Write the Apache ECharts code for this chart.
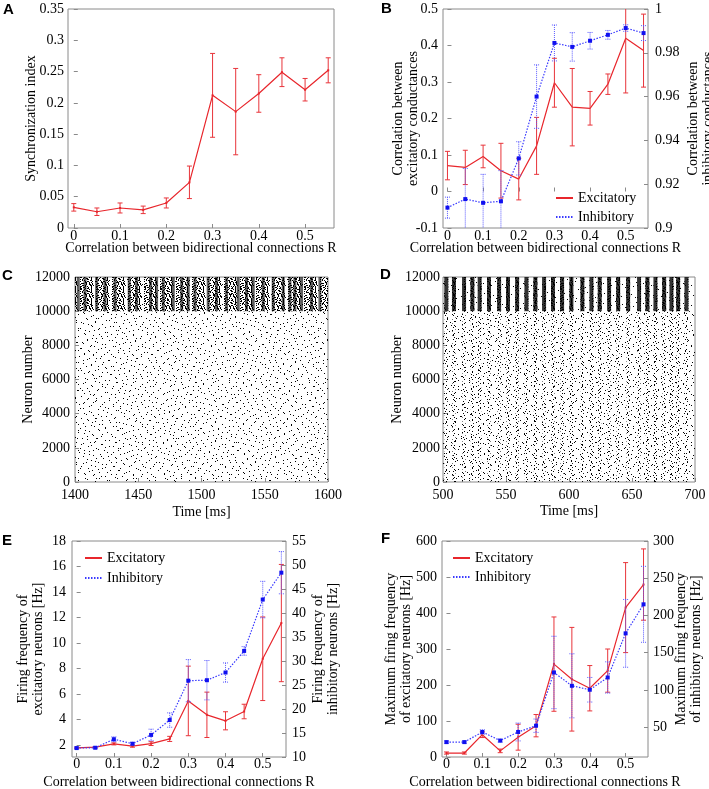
<!DOCTYPE html>
<html>
<head>
<meta charset="utf-8">
<script src="https://cdn.jsdelivr.net/npm/echarts@6.0.0/dist/echarts.min.js"></script>
<style>
html,body{margin:0;padding:0;background:#fff;}
#chart{width:709px;height:789px;}
</style>
</head>
<body>
<div id="chart"></div>
<script>
// ---------------- DATA ----------------
const R_VALUES = [0, 0.05, 0.1, 0.15, 0.2, 0.25, 0.3, 0.35, 0.4, 0.45, 0.5, 0.55];
const R_TICKS = [0, 0.1, 0.2, 0.3, 0.4, 0.5];

// A: synchronization index
const syncIndex = [0.033, 0.026, 0.032, 0.029, 0.040, 0.073, 0.212, 0.186, 0.215, 0.249, 0.221, 0.252];
const syncIndexErr = [0.006, 0.006, 0.008, 0.006, 0.008, 0.026, 0.067, 0.069, 0.030, 0.023, 0.018, 0.020];

// B: correlation between conductances
const corrExc = [0.071, 0.066, 0.096, 0.057, 0.034, 0.125, 0.298, 0.231, 0.228, 0.294, 0.420, 0.386];
const corrExcErr = [0.039, 0.047, 0.031, 0.075, 0.057, 0.078, 0.067, 0.106, 0.046, 0.028, 0.150, 0.100];
const corrInh = [0.9093, 0.9132, 0.9115, 0.9122, 0.9318, 0.9600, 0.9845, 0.9827, 0.9855, 0.9882, 0.9913, 0.9890];
const corrInhErr = [0.0048, 0.014, 0.013, 0.014, 0.0076, 0.0145, 0.0082, 0.0065, 0.0038, 0.0020, 0.0015, 0.0034];

const POPULATION_SIZES = [10000, 2000]; // excitatory neurons 0..10000, inhibitory 10000..12000
const burstTimesC = [1402.6, 1407.9, 1417.1, 1423.7, 1431.6, 1442.9, 1448.7, 1459.8, 1464.5, 1469.8, 1477.7, 1484.3, 1489.5, 1494.8, 1505.3, 1511.9, 1519.8, 1529.0, 1535.6, 1540.9, 1548.8, 1556.7, 1564.6, 1569.9, 1573.8, 1579.1, 1587.0, 1593.6];
const burstTimesD = [502.6, 508.7, 516.7, 523.3, 529.1, 536.5, 544.5, 551.6, 558.8, 566.2, 573.3, 580.2, 587.3, 594.5, 601.9, 610.6, 617.8, 624.4, 631.8, 639.0, 646.9, 655.6, 662.2, 668.6, 675.5, 681.3, 686.6, 693.2];

// E: firing frequency
const freqExc = [1.77, 1.82, 2.08, 1.90, 2.10, 2.47, 5.45, 4.36, 3.89, 4.62, 8.76, 11.56];
const freqExcErr = [0.05, 0.05, 0.08, 0.08, 0.15, 0.20, 2.73, 1.78, 0.71, 0.57, 3.28, 4.60];
const freqInh = [11.86, 11.93, 13.7, 12.76, 14.6, 17.7, 25.9, 26.0, 27.6, 32.1, 42.8, 48.4];
const freqInhErr = [0.2, 0.2, 0.5, 0.3, 1.2, 1.5, 4.4, 4.1, 2.0, 0.9, 3.8, 4.4];

// F: maximum firing frequency
const maxFreqExc = [11, 11, 62, 17, 55, 87, 258, 216, 191, 240, 415, 479];
const maxFreqExcErr = [3, 3, 8, 5, 36, 31, 131, 144, 63, 60, 125, 99];
const maxFreqInh = [30, 30, 43.6, 32, 43.6, 52, 123.5, 105.6, 100.3, 116.8, 176, 215];
const maxFreqInhErr = [1.5, 1.5, 3, 2, 12, 9, 48.6, 43, 16.5, 21, 45.5, 51];

const E_LEFT_TICKS = [2, 4, 6, 8, 10, 12, 14, 16, 18];
const F_RIGHT_TICKS = [50, 100, 150, 200, 250, 300];

// ---------------- STYLE ----------------
const SERIF = '"Liberation Serif", "Times New Roman", serif';
const SANS = '"Liberation Sans", Arial, sans-serif';
const GRAY = '#8a8a8a';
const RED = '#e8262c';
const RED_ERR = '#e8343a';
const BLUE = '#1010f0';
const BLUE_LINE = '#3a3aff';
const BLUE_ERR = '#5a5aff';
const TRANSPARENT = 'rgba(0,0,0,0)';

// hand-made dot textures for the raster plots (decal patterns)
const DOTS_A_ROWS = [
  [0,3,1,17,1,15,1,10], [0,11,1,18,1,17], [0,6,1,19,1,17,1,3], [0,16,1,22,1,8],
  [0,1,1,27,1,4,1,13], [0,9,1,13,1,24], [0,19,1,22,1,3,1,1], [0,5,1,27,1,14],
  [0,13,1,13,1,12,1,7], [1,21,1,25], [0,8,1,27,1,8,1,2], [0,17,1,13,1,16],
  [0,4,1,19,1,16,1,6], [0,12,1,22,1,12], [0,7,1,12,1,9,1,17], [0,25,1,17,1,4],
  [0,2,1,12,1,22,1,9], [0,10,1,17,1,19], [0,18,1,14,1,13,1,0], [0,6,1,33,1,7],
  [0,14,1,8,1,20,1,3], [0,3,1,26,1,17], [0,20,1,16,1,8,1,1], [0,9,1,16,1,21]
];
const DOTS_B_ROWS = [
  [0,7,1,32], [0,29,1,10], [0,15,1,24], [0,36,1,3], [0,3,1,36],
  [0,22,1,17], [0,11,1,28], [0,33,1,6], [0,25,1,14], [1,39],
  [0,18,1,21], [0,38,1,1], [0,9,1,30], [0,27,1,12], [0,4,1,35],
  [0,31,1,8], [0,13,1,26], [0,21,1,18], [0,35,1,4], [0,16,1,23]
];
const MEDIUM_ROWS = [
  [1,2,2,3,1,2,1,4], [0,1,1,3,1,1,2,2,1,4], [2,2,1,4,1,1,1,4], [0,3,1,2,2,3,1,4],
  [1,1,1,4,2,2,1,4], [0,2,1,1,1,5,2,4], [1,4,1,1,2,3,1,3], [0,5,2,2,1,1,1,4],
  [0,1,2,3,1,2,1,2,1,3], [1,5,1,2,2,1,1,3], [0,2,2,1,1,4,1,2,1,2], [2,3,1,1,1,3,1,4]
];
const COLUMN_ROWS = [[1,3], [0,4], [0,2,1,1], [0,4], [0,1,1,2], [0,4], [0,3,1,0], [0,4], [1,3], [0,4], [0,2,1,1], [0,4]];

function decal(rows, ys) {
  return {symbol: 'rect', symbolSize: 1, symbolKeepAspect: false, color: '#000',
          backgroundColor: null, dashArrayX: rows, dashArrayY: ys, rotation: 0,
          maxTileWidth: 512, maxTileHeight: 512};
}
const DECAL_A_HALF = decal(DOTS_A_ROWS, [1, 1]);
const DECAL_B = decal(DOTS_B_ROWS, [1, 0]);
const DECAL_MEDIUM = decal(MEDIUM_ROWS, [1, 0]);
const DECAL_COLUMN = decal(COLUMN_ROWS, [1, 0]);

function clean(o) { Object.keys(o).forEach(k => { if (o[k] === undefined) delete o[k]; }); return o; }

function mkAxis(p) {
  const a = clean({
    type: p.type || 'value', gridIndex: p.grid, position: p.position,
    min: p.min, max: p.max, interval: p.interval,
    name: p.name || '', nameLocation: 'middle', nameGap: p.nameGap || 0, nameRotate: p.nameRotate,
    nameMoveOverlap: false,
    nameTextStyle: {fontFamily: SERIF, fontSize: 14, color: '#000', lineHeight: 15},
    axisLine: {show: false},
    splitLine: {show: false},
    axisTick: {show: true, inside: true, length: 4, lineStyle: {color: GRAY, width: 1}},
    axisLabel: clean({show: true, fontFamily: SERIF, fontSize: 14, color: '#000', margin: p.margin, formatter: p.formatter})
  });
  if (p.ticks) { a.axisTick.customValues = p.ticks; a.axisLabel.customValues = p.ticks; }
  return a;
}
function hiddenCat(grid) {
  return {type: 'category', gridIndex: grid, data: ['all'], show: false, boundaryGap: true};
}
function hiddenVal(grid, min, max, extra) {
  return Object.assign({type: 'value', gridIndex: grid, min, max, show: false,
                        splitLine: {show: false}}, extra || {});
}
const plainNum = v => String(v);
const XNAME = 'Correlation between bidirectional connections R';
const XMIN = -0.0125, XMAX = 0.5625;

function grid(left, top, width, height, show) {
  return {left, top, width, height, show: show !== false, borderColor: GRAY, borderWidth: 1,
          backgroundColor: TRANSPARENT, containLabel: false, outerBoundsMode: 'none'};
}

function lineSeries(name, xi, yi, vals, color, dotted) {
  return {type: 'line', name, xAxisIndex: xi, yAxisIndex: yi,
          data: R_VALUES.map((r, i) => [r, vals[i]]), symbol: 'none', clip: true,
          lineStyle: {color, width: 1.2, type: dotted ? [1.5, 1.5] : 'solid'},
          itemStyle: {color}, silent: true, z: 3};
}
function errSeries(xi, yi, vals, errs, color, o) {
  return {
    type: 'custom', xAxisIndex: xi, yAxisIndex: yi, clip: true, silent: true, z: 4,
    data: R_VALUES.map((r, i) => [r, vals[i], vals[i] - errs[i], vals[i] + errs[i]]),
    encode: {x: 0, y: [1, 2, 3]},
    renderItem: (params, api) => {
      const x = api.value(0);
      const p = api.coord([x, api.value(1)]);
      const lo = api.coord([x, api.value(2)]);
      const hi = api.coord([x, api.value(3)]);
      const cap = o.cap || 2.5;
      const st = {stroke: color, lineWidth: 1, lineDash: o.dash || null, fill: null};
      const ch = [
        {type: 'line', shape: {x1: p[0], y1: hi[1], x2: p[0], y2: lo[1]}, style: st},
        {type: 'line', shape: {x1: p[0] - cap, y1: hi[1], x2: p[0] + cap, y2: hi[1]}, style: st},
        {type: 'line', shape: {x1: p[0] - cap, y1: lo[1], x2: p[0] + cap, y2: lo[1]}, style: st}
      ];
      if (o.marker) {
        ch.push({type: 'rect', shape: {x: p[0] - o.marker / 2, y: p[1] - o.marker / 2, width: o.marker, height: o.marker},
                 style: {fill: o.markerColor}});
      }
      return {type: 'group', children: ch};
    }
  };
}
// full-width texture bars on a hidden one-category axis (overlapping each other)
function bgBar(xi, yi, value, dec) {
  return {type: 'bar', xAxisIndex: xi, yAxisIndex: yi, data: [value], barWidth: '100%', barGap: '-100%',
          clip: true, itemStyle: {color: TRANSPARENT, decal: dec}, silent: true, z: 1};
}
// population bursts: one thin bar per burst time
function burstBar(xi, yi, times, value, width, color, dec) {
  const s = {type: 'bar', xAxisIndex: xi, yAxisIndex: yi, data: times.map(t => [t, value]), clip: true,
             barWidth: width, barGap: '-100%', itemStyle: {color: color}, silent: true, z: 2};
  if (dec) s.itemStyle.decal = dec;
  return s;
}

const legendBase = {
  orient: 'vertical', itemWidth: 17, itemHeight: 10, itemGap: 5, selectedMode: false,
  textStyle: {fontFamily: SERIF, fontSize: 14, color: '#000'},
  itemStyle: {opacity: 0}, data: ['Excitatory', 'Inhibitory']
};

const EXC_TOP = POPULATION_SIZES[0];
const ALL_TOP = POPULATION_SIZES[0] + POPULATION_SIZES[1];
const BAND_H = 205 * POPULATION_SIZES[1] / ALL_TOP;

const option = {
  animation: false,
  backgroundColor: '#fff',
  grid: [
    grid(68, 9, 266, 219),     // 0 A
    grid(443, 9, 205, 219),    // 1 B
    grid(75, 277, 253, 205),   // 2 C
    grid(443, 277, 252, 205),  // 3 D
    grid(72, 541, 214, 216),   // 4 E
    grid(442, 541, 206, 216),  // 5 F
    grid(75, 277, 253, BAND_H, false),  // 6 C inhibitory band overlay
    grid(443, 277, 252, BAND_H, false)  // 7 D inhibitory band overlay
  ],
  xAxis: [
    mkAxis({grid: 0, min: XMIN, max: XMAX, ticks: R_TICKS, name: XNAME, nameGap: 13, margin: 1}),
    mkAxis({grid: 1, min: XMIN, max: XMAX, ticks: R_TICKS, name: XNAME, nameGap: 13, margin: 1}),
    mkAxis({grid: 2, min: 1400, max: 1600, interval: 50, name: 'Time [ms]', nameGap: 23, margin: 6, formatter: plainNum}),
    hiddenCat(2),
    mkAxis({grid: 3, min: 500, max: 700, interval: 50, name: 'Time [ms]', nameGap: 22, margin: 6, formatter: plainNum}),
    hiddenCat(3),
    mkAxis({grid: 4, min: XMIN, max: XMAX, ticks: R_TICKS, name: XNAME, nameGap: 18, margin: 0}),
    mkAxis({grid: 5, min: XMIN, max: XMAX, ticks: R_TICKS, name: XNAME, nameGap: 18, margin: 0}),
    hiddenVal(6, 1400, 1600),   // 8
    hiddenCat(6),               // 9
    hiddenVal(7, 500, 700),     // 10
    hiddenCat(7)                // 11
  ],
  yAxis: [
    mkAxis({grid: 0, min: 0, max: 0.35, interval: 0.05, name: 'Synchronization index', nameGap: 29, nameRotate: 90, margin: 4}),
    mkAxis({grid: 1, position: 'left', min: -0.1, max: 0.5, interval: 0.1, name: 'Correlation between\nexcitatory conductances', nameGap: 22, nameRotate: 90, margin: 5}),
    mkAxis({grid: 1, position: 'right', min: 0.9, max: 1, interval: 0.02, name: 'Correlation between\ninhibitory conductances', nameGap: 38, nameRotate: 90, margin: 7}),
    mkAxis({grid: 2, min: 0, max: 12000, interval: 2000, name: 'Neuron number', nameGap: 39, nameRotate: 90, margin: 5, formatter: plainNum}),
    mkAxis({grid: 3, min: 0, max: 12000, interval: 2000, name: 'Neuron number', nameGap: 38, nameRotate: 90, margin: 3, formatter: plainNum}),
    mkAxis({grid: 4, position: 'left', min: 1.05, max: 18, ticks: E_LEFT_TICKS, name: 'Firing frequency of\nexcitatory neurons [Hz]', nameGap: 26, nameRotate: 90, margin: 6}),
    mkAxis({grid: 4, position: 'right', min: 10, max: 55, interval: 5, name: 'Firing frequency of\ninhibitory neurons [Hz]', nameGap: 25, nameRotate: 90, margin: 6}),
    mkAxis({grid: 5, position: 'left', min: 0, max: 600, interval: 100, name: 'Maximum firing frequency\nof excitatory neurons [Hz]', nameGap: 28, nameRotate: 90, margin: 5}),
    mkAxis({grid: 5, position: 'right', min: 10, max: 300, ticks: F_RIGHT_TICKS, name: 'Maximum firing frequency\nof inhibitory neurons [Hz]', nameGap: 26, nameRotate: 90, margin: 5}),
    hiddenVal(6, EXC_TOP, ALL_TOP, {startValue: EXC_TOP}),   // 9
    hiddenVal(7, EXC_TOP, ALL_TOP, {startValue: EXC_TOP})    // 10
  ],
  legend: [
    Object.assign({}, legendBase, {left: 550, top: 186}),
    Object.assign({}, legendBase, {left: 79, top: 546, itemGap: 6}),
    Object.assign({}, legendBase, {left: 447, top: 546})
  ],
  graphic: [
    {type: 'text', left: 3, top: 2, style: {text: 'A', font: 'bold 15px ' + SANS, fill: '#000'}},
    {type: 'text', left: 381, top: 1, style: {text: 'B', font: 'bold 15px ' + SANS, fill: '#000'}},
    {type: 'text', left: 2, top: 268, style: {text: 'C', font: 'bold 15px ' + SANS, fill: '#000'}},
    {type: 'text', left: 380, top: 267, style: {text: 'D', font: 'bold 15px ' + SANS, fill: '#000'}},
    {type: 'text', left: 2, top: 533, style: {text: 'E', font: 'bold 15px ' + SANS, fill: '#000'}},
    {type: 'text', left: 381, top: 531, style: {text: 'F', font: 'bold 15px ' + SANS, fill: '#000'}}
  ],
  series: [
    // A
    lineSeries('Synchronization index', 0, 0, syncIndex, RED, false),
    errSeries(0, 0, syncIndex, syncIndexErr, RED_ERR, {cap: 2.5, marker: 2, markerColor: RED}),
    // B
    lineSeries('Excitatory', 1, 1, corrExc, RED, false),
    lineSeries('Inhibitory', 1, 2, corrInh, BLUE_LINE, true),
    errSeries(1, 1, corrExc, corrExcErr, RED_ERR, {cap: 2.5}),
    errSeries(1, 2, corrInh, corrInhErr, BLUE_ERR, {cap: 2.5, dash: [1, 1], marker: 4, markerColor: BLUE}),
    // C raster: excitatory background, inhibitory band background, burst stripes
    bgBar(3, 3, EXC_TOP, DECAL_A_HALF),
    bgBar(3, 3, EXC_TOP, DECAL_B),
    bgBar(9, 9, ALL_TOP, DECAL_MEDIUM),
    bgBar(9, 9, ALL_TOP, DECAL_B),
    burstBar(8, 9, burstTimesC, ALL_TOP, 3, 'rgba(0,0,0,0.62)', DECAL_MEDIUM),
    // D raster
    bgBar(5, 4, EXC_TOP, DECAL_A_HALF),
    bgBar(5, 4, EXC_TOP, DECAL_B),
    burstBar(4, 4, burstTimesD, EXC_TOP, 3, TRANSPARENT, DECAL_COLUMN),
    bgBar(11, 10, ALL_TOP, DECAL_B),
    burstBar(10, 10, burstTimesD, ALL_TOP, 4, 'rgba(0,0,0,0.8)', DECAL_MEDIUM),
    // E
    lineSeries('Excitatory', 6, 5, freqExc, RED, false),
    lineSeries('Inhibitory', 6, 6, freqInh, BLUE_LINE, true),
    errSeries(6, 5, freqExc, freqExcErr, RED_ERR, {cap: 2.5, marker: 2, markerColor: RED}),
    errSeries(6, 6, freqInh, freqInhErr, BLUE_ERR, {cap: 2.5, dash: [1, 1], marker: 4, markerColor: BLUE}),
    // F
    lineSeries('Excitatory', 7, 7, maxFreqExc, RED, false),
    lineSeries('Inhibitory', 7, 8, maxFreqInh, BLUE_LINE, true),
    errSeries(7, 7, maxFreqExc, maxFreqExcErr, RED_ERR, {cap: 2.5, marker: 2, markerColor: RED}),
    errSeries(7, 8, maxFreqInh, maxFreqInhErr, BLUE_ERR, {cap: 2.5, dash: [1, 1], marker: 4, markerColor: BLUE})
  ]
};

const chart = echarts.init(document.getElementById('chart'), null, {renderer: 'canvas', width: 709, height: 789});
chart.setOption(option);
</script>
</body>
</html>
